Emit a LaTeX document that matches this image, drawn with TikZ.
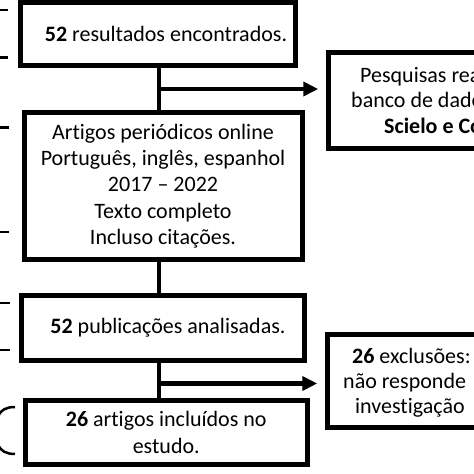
\documentclass[tikz,border=0pt]{standalone}
\usepackage{fontspec}
\setmainfont{Carlito}[Ligatures={NoCommon}]
\usetikzlibrary{arrows.meta}
\begin{document}
\begin{tikzpicture}[x=1pt,y=-1pt,
  box/.style={draw, line width=5pt, rectangle, inner sep=0pt, align=center,
    font=\fontsize{22}{26.25}\selectfont},
  sidebox/.style={draw, line width=4.5pt, rectangle, inner sep=0pt},
  sidetext/.style={anchor=base west, inner sep=0pt, font=\fontsize{22}{25}\selectfont},
  conn/.style={line width=4.5pt},
  arr/.style={line width=4.5pt, -{Triangle[length=15pt,width=14pt]}, shorten >=8pt},
  brtick/.style={line width=2.5pt},
]
\useasboundingbox (0,0) rectangle (474,474);
\fill[white] (0,0) rectangle (474,474);
\clip (0,0) rectangle (474,474);

% main boxes
\node[box, minimum width=275pt, minimum height=63pt] (b1) at (157.5,34)
  {\hspace*{17pt}\textbf{52} resultados encontrados.};
\node[box, minimum width=278pt, minimum height=147pt] (b2) at (163,186)
  {Artigos periódicos online\\Português, inglês, espanhol\\2017 -- 2022\\Texto completo\\Incluso citações.};
\node[box, minimum width=283pt, minimum height=64.5pt] (b3) at (163,327.75)
  {\hspace*{10pt}\textbf{52} publicações analisadas.};
\node[box, minimum width=282.5pt, minimum height=64pt] (b4) at (166.25,432.5)
  {\textbf{26} artigos incluídos no\\estudo.};

% side boxes (cut at the right edge)
\node[sidebox, minimum width=291.5pt, minimum height=96pt] (r1) at (474.25,100.5) {};
\node[sidetext] (r1a) at (360,82) {Pesquisas rea};
\node[sidetext] (r1b) at (351,107) {banco de dade};
\node[sidetext] (r1c) at (384,133) {\textbf{Scielo e Co}};

\node[sidebox, minimum width=292.5pt, minimum height=93pt] (r2) at (473.75,381) {};
\node[sidetext] (r2a) at (352,363) {\textbf{26} exclusões:};
\node[sidetext] (r2b) at (343,388) {não responde};
\node[sidetext] (r2c) at (355,413) {investigação};

% connectors
\coordinate (v) at (159,0);
\coordinate (a1) at (159,89);
\coordinate (a2) at (159,383.5);
\draw[conn] (b1.south -| v) -- (b2.north -| v);
\draw[conn] (b3.north -| v) -- (b2.south -| v);
\draw[conn] (b3.south -| v) -- (b4.north -| v);
\draw[arr] (a1) -- (r1.west |- a1);
\draw[arr] (a2) -- (r2.west |- a2);

% ends of braces cut at the left edge
\draw[brtick] (0,10) -- (8,10);
\draw[brtick] (0,57.5) -- (8,57.5);
\draw[brtick] (0,127.5) -- (9,127.5);
\draw[brtick] (0,232) -- (9,232);
\draw[brtick] (0,303) -- (10,303);
\draw[brtick] (0,350) -- (10,350);
\draw[brtick] (15,407) .. controls (6,407) and (1,410) .. (-2,416);
\draw[brtick] (15,454) .. controls (6,454) and (1,451) .. (-2,445);
\end{tikzpicture}
\end{document}
